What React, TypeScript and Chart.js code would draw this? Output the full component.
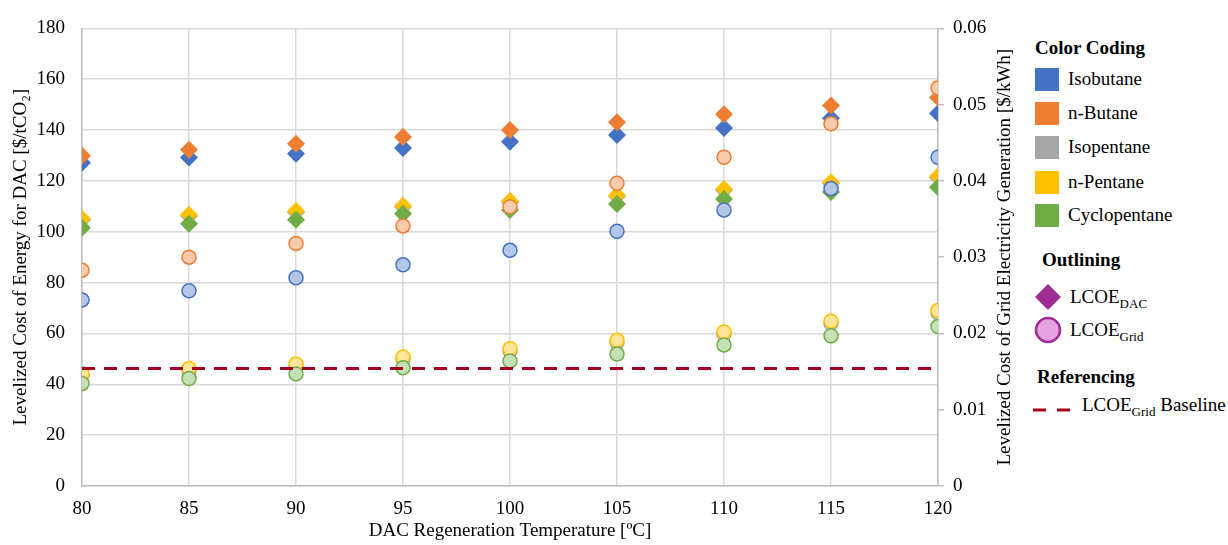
import React, { useEffect, useRef } from 'react';
import { Chart, registerables } from 'chart.js';

Chart.register(...registerables);

const temperatures = [80, 85, 90, 95, 100, 105, 110, 115, 120];
const fluids = ['Isobutane', 'n-Butane', 'Isopentane', 'n-Pentane', 'Cyclopentane'];
const fluidColors = ['#4472C4', '#ED7D31', '#A5A5A5', '#FFC000', '#70AD47'];
const fluidFills = ['#B4C7E7', '#F8CBAD', '#DBDBDB', '#FFE699', '#C5E0B4'];

// LCOE for DAC [$/tCO2] (left axis, diamonds)
const lcoeDacIsobutane = [127.2, 129.2, 130.7, 133.0, 135.4, 138.1, 140.8, 144.7, 146.6];
const lcoeDacNButane = [129.9, 132.3, 134.6, 137.3, 140.0, 143.1, 146.2, 149.7, 152.8];
const lcoeDacIsopentane = [104.6, 106.2, 107.7, 109.7, 111.6, 113.9, 116.3, 119.0, 121.3];
const lcoeDacNPentane = [105.1, 106.7, 108.2, 110.2, 112.1, 114.4, 116.8, 119.5, 121.8];
const lcoeDacCyclopentane = [101.6, 103.2, 104.7, 107.1, 108.6, 110.9, 112.9, 115.6, 117.5];

// LCOE of grid electricity [$/kWh] (right axis, circles)
const lcoeGridIsobutane = [0.0244, 0.0256, 0.0273, 0.029, 0.0309, 0.0334, 0.0362, 0.039, 0.0431];
const lcoeGridNButane = [0.0283, 0.03, 0.0318, 0.0341, 0.0366, 0.0397, 0.0431, 0.0475, 0.0522];
const lcoeGridIsopentane = [0.0145, 0.0151, 0.0157, 0.0166, 0.0177, 0.0188, 0.0199, 0.0213, 0.0227];
const lcoeGridNPentane = [0.0147, 0.0154, 0.016, 0.0169, 0.018, 0.0191, 0.0202, 0.0216, 0.023];
const lcoeGridCyclopentane = [0.01345, 0.0141, 0.0147, 0.0155, 0.0164, 0.0173, 0.0185, 0.0197, 0.0209];

const baselineTemps = [80, 120];
const baselineValues = [0.0154, 0.0154];

const dacSeries = [lcoeDacIsobutane, lcoeDacNButane, lcoeDacIsopentane, lcoeDacNPentane, lcoeDacCyclopentane];
const gridSeries = [lcoeGridIsobutane, lcoeGridNButane, lcoeGridIsopentane, lcoeGridNPentane, lcoeGridCyclopentane];

const rightAxisTitle = 'Levelized Cost of Grid Electricity Generation [$/kWh]';

const FONT = "'Liberation Serif', 'Times New Roman', serif";

function toPoints(xs: number[], ys: number[]) {
  return xs.map((x, i) => ({ x, y: ys[i] }));
}

const rightTitlePlugin = {
  id: 'rightTitle',
  afterDraw(chart: any) {
    const ctx = chart.ctx;
    const area = chart.chartArea;
    ctx.save();
    ctx.translate(1005, (area.top + area.bottom) / 2);
    ctx.rotate(-Math.PI / 2);
    ctx.font = `19px ${FONT}`;
    ctx.fillStyle = '#000';
    ctx.textAlign = 'center';
    ctx.textBaseline = 'middle';
    ctx.fillText(rightAxisTitle, 0, 0);
    ctx.restore();
  },
};

function ChartCanvas() {
  const ref = useRef<HTMLCanvasElement | null>(null);
  useEffect(() => {
    if (!ref.current) return;
    const datasets: any[] = [];
    datasets.push({
      type: 'line',
      label: 'LCOE Grid Baseline',
      data: toPoints(baselineTemps, baselineValues),
      yAxisID: 'y2',
      borderColor: '#A50021',
      borderWidth: 3,
      borderDash: [13, 9],
      pointRadius: 0,
      showLine: true,
      fill: false,
      order: 0,
    });
    fluids.forEach((name, i) => {
      datasets.push({
        label: name + ' LCOE Grid',
        data: toPoints(temperatures, gridSeries[i]),
        yAxisID: 'y2',
        pointStyle: 'circle',
        pointRadius: 7,
        backgroundColor: fluidFills[i],
        borderColor: fluidColors[i],
        borderWidth: 1.5,
        showLine: false,
        order: 10 - i,
      });
      datasets.push({
        label: name + ' LCOE DAC',
        data: toPoints(temperatures, dacSeries[i]),
        yAxisID: 'y',
        pointStyle: 'rectRot',
        pointRadius: 9,
        backgroundColor: fluidColors[i],
        borderColor: fluidColors[i],
        borderWidth: 0,
        showLine: false,
        order: 20 - i,
      });
    });

    const chart = new Chart(ref.current, {
      type: 'scatter',
      data: { datasets },
      plugins: [rightTitlePlugin],
      options: {
        animation: false,
        responsive: false,
        devicePixelRatio: 1,
        layout: { padding: { top: 22, left: 0, right: 0, bottom: 0 } },
        plugins: { legend: { display: false }, tooltip: { enabled: false } },
        scales: {
          x: {
            type: 'linear',
            position: 'bottom',
            min: 80,
            max: 120,
            ticks: { stepSize: 5, color: '#000', font: { family: FONT, size: 19 }, padding: 12 },
            grid: { color: '#D9D9D9', lineWidth: 1.5, drawTicks: false },
            border: { color: '#BFBFBF', width: 1.5 },
            title: {
              display: true,
              text: 'DAC Regeneration Temperature [ºC]',
              color: '#000',
              font: { family: FONT, size: 19, lineHeight: 1.2 },
              padding: { top: 0, bottom: 3 },
            },
            afterFit: (s: any) => { s.height = 59; },
          },
          y: {
            type: 'linear',
            position: 'left',
            min: 0,
            max: 180,
            ticks: { stepSize: 20, color: '#000', font: { family: FONT, size: 19 }, padding: 17 },
            grid: { color: '#D9D9D9', lineWidth: 1.5, drawTicks: false },
            border: { color: '#BFBFBF', width: 1.5 },
            title: {
              display: true,
              text: 'Levelized Cost of Energy for DAC [$/tCO₂]',
              color: '#000',
              font: { family: FONT, size: 19, lineHeight: 1.2 },
              padding: { top: 10, bottom: 0 },
            },
            afterFit: (s: any) => { s.width = 82; },
          },
          y2: {
            type: 'linear',
            position: 'right',
            min: 0,
            max: 0.06,
            ticks: {
              stepSize: 0.01,
              color: '#000',
              font: { family: FONT, size: 19 },
              padding: 9,
              callback: (v: any) => (Number(v) === 0 ? '0' : Number(v).toFixed(2)),
            },
            grid: { drawOnChartArea: false, drawTicks: true, tickLength: 6, color: '#BFBFBF', lineWidth: 1.5 },
            border: { color: '#BFBFBF', width: 1.5 },
            title: { display: false },
            afterFit: (s: any) => { s.width = 82; },
          },
        },
      } as any,
    });
    return () => chart.destroy();
  }, []);
  return <canvas ref={ref} width={1020} height={545} style={{ position: 'absolute', left: 0, top: 0 }} />;
}

function Label(props: { left: number; cy: number; bold?: boolean; children: any }) {
  return (
    <div
      style={{
        position: 'absolute',
        left: props.left,
        top: props.cy - 12,
        height: 24,
        lineHeight: '24px',
        fontFamily: FONT,
        fontSize: 19,
        fontWeight: props.bold ? 'bold' : 'normal',
        whiteSpace: 'nowrap',
        color: '#000',
      }}
    >
      {props.children}
    </div>
  );
}

function Sub(props: { children: any }) {
  return <span style={{ fontSize: 13, position: 'relative', top: 5 }}>{props.children}</span>;
}

const swatchCenters = [79, 113, 147, 182, 215];

export default function App() {
  return (
    <div style={{ position: 'absolute', left: 0, top: 0, width: 1228, height: 545, background: '#fff', overflow: 'hidden' }}>
      <ChartCanvas />
      <Label left={1035} cy={48} bold>Color Coding</Label>
      {fluids.map((f, i) => (
        <React.Fragment key={f}>
          <div
            style={{
              position: 'absolute',
              left: 1035,
              top: swatchCenters[i] - 11.5,
              width: 24,
              height: 23,
              background: fluidColors[i],
            }}
          />
          <Label left={1068} cy={swatchCenters[i]}>{f}</Label>
        </React.Fragment>
      ))}
      <Label left={1042} cy={260} bold>Outlining</Label>
      <svg style={{ position: 'absolute', left: 1034, top: 283 }} width={28} height={28}>
        <polygon points="14,1 27,14 14,27 1,14" fill="#A02B93" />
      </svg>
      <Label left={1070} cy={297}>LCOE<Sub>DAC</Sub></Label>
      <svg style={{ position: 'absolute', left: 1034, top: 316 }} width={28} height={28}>
        <circle cx={14} cy={14} r={12} fill="#E6A2DE" stroke="#A02B93" strokeWidth={2.5} />
      </svg>
      <Label left={1070} cy={330}>LCOE<Sub>Grid</Sub></Label>
      <Label left={1037} cy={377} bold>Referencing</Label>
      <svg style={{ position: 'absolute', left: 1032, top: 404 }} width={40} height={12}>
        <line x1={1} y1={6} x2={38} y2={6} stroke="#A50021" strokeWidth={3} strokeDasharray="13 11" />
      </svg>
      <Label left={1082} cy={405}>LCOE<Sub>Grid</Sub> Baseline</Label>
    </div>
  );
}
